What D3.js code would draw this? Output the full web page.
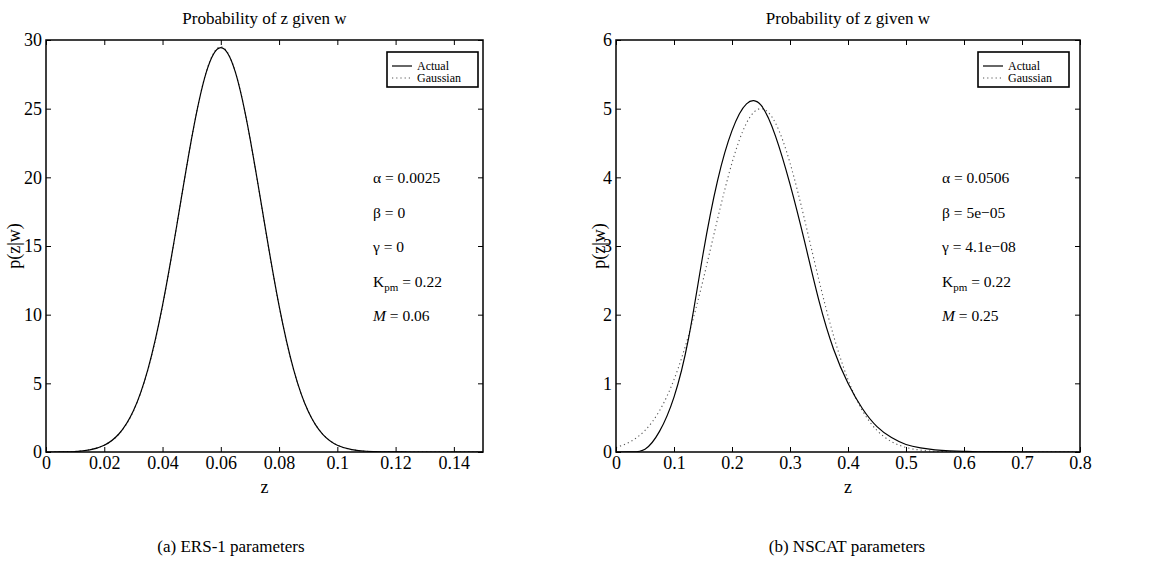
<!DOCTYPE html>
<html>
<head>
<meta charset="utf-8">
<script src="https://cdn.jsdelivr.net/npm/d3@7/dist/d3.min.js"></script>
<style>
  html, body { margin: 0; padding: 0; background: #fff; }
  svg { display: block; font-family: "Liberation Serif", "Times New Roman", serif; }
</style>
</head>
<body>
<svg id="chart" width="1158" height="574"></svg>
<script>
// ERS-1 panel: p(z|w), actual density vs Gaussian approximation
const ersZ = [0, 0.005, 0.01, 0.015, 0.02, 0.025, 0.03, 0.035, 0.04, 0.045, 0.05, 0.055,
  0.06, 0.065, 0.07, 0.075, 0.08, 0.085, 0.09, 0.095, 0.1, 0.105, 0.11, 0.115, 0.12,
  0.125, 0.13, 0.135, 0.14, 0.145, 0.15];
const ersActual = [0, 0.004, 0.03, 0.15, 0.49, 1.31, 3.0, 6.04, 10.68, 16.64, 22.85, 27.64,
  29.45, 27.66, 22.88, 16.66, 10.66, 6.0, 2.96, 1.28, 0.49, 0.17, 0.055, 0.016, 0.005,
  0.001, 0, 0, 0, 0, 0];
const ersGaussian = [0.003, 0.013, 0.05, 0.168, 0.498, 1.296, 2.97, 5.99, 10.63, 16.62, 22.86, 27.68,
  29.5, 27.68, 22.86, 16.62, 10.63, 5.99, 2.97, 1.296, 0.498, 0.168, 0.05, 0.013, 0.003,
  0, 0, 0, 0, 0, 0];
const ersXTicks = [0, 0.02, 0.04, 0.06, 0.08, 0.1, 0.12, 0.14];
const ersXTickLabels = ["0", "0.02", "0.04", "0.06", "0.08", "0.1", "0.12", "0.14"];
const ersYTicks = [0, 5, 10, 15, 20, 25, 30];
const ersParams = [["α", "0.0025"], ["β", "0"], ["γ", "0"], ["Kpm", "0.22"], ["M", "0.06"]];

// NSCAT panel
const nscatZ = [0, 0.025, 0.05, 0.075, 0.1, 0.125, 0.15, 0.175, 0.2, 0.225, 0.25,
  0.275, 0.3, 0.325, 0.35, 0.375, 0.4, 0.425, 0.45, 0.475, 0.5, 0.525, 0.55, 0.575, 0.6,
  0.625, 0.65, 0.675, 0.7, 0.75, 0.8];
const nscatActual = [0, 0.002, 0.04, 0.3, 0.8, 1.65, 2.88, 3.95, 4.68, 5.07, 5.05,
  4.6, 3.9, 3.07, 2.2, 1.5, 1.0, 0.63, 0.37, 0.21, 0.11, 0.06, 0.032, 0.017, 0.009,
  0.004, 0.002, 0.001, 0, 0, 0];
const nscatGaussian = [0.066, 0.151, 0.314, 0.601, 1.054, 1.696, 2.5, 3.39, 4.21, 4.79, 5.0,
  4.79, 4.21, 3.39, 2.5, 1.696, 1.054, 0.601, 0.314, 0.151, 0.066, 0.027, 0.01, 0.003, 0.001,
  0, 0, 0, 0, 0, 0];
const nscatXTicks = [0, 0.1, 0.2, 0.3, 0.4, 0.5, 0.6, 0.7, 0.8];
const nscatXTickLabels = ["0", "0.1", "0.2", "0.3", "0.4", "0.5", "0.6", "0.7", "0.8"];
const nscatYTicks = [0, 1, 2, 3, 4, 5, 6];
const nscatParams = [["α", "0.0506"], ["β", "5e\u221205"], ["γ", "4.1e\u221208"], ["Kpm", "0.22"], ["M", "0.25"]];

const titleText = "Probability of z given w";
const seriesNames = ["Actual", "Gaussian"];

const svg = d3.select("#chart");

function drawPanel(opt) {
  const { left, right, top, bottom, z, actual, gauss, xDomain, yDomain,
          xTicks, xTickLabels, yTicks, params, paramX, legendX,
          yLabelX, caption, captionX, id } = opt;

  const x = d3.scaleLinear().domain(xDomain).range([left, right]);
  const y = d3.scaleLinear().domain(yDomain).range([bottom, top]);

  const g = svg.append("g");

  g.append("clipPath").attr("id", id).append("rect")
    .attr("x", left).attr("y", top).attr("width", right - left).attr("height", bottom - top);

  // curves: smooth cubic spline through the sampled densities
  const line = d3.line()
    .x(d => x(d[0])).y(d => y(d[1]))
    .curve(d3.curveNatural);

  const plot = g.append("g").attr("clip-path", `url(#${id})`);
  plot.append("path")
    .datum(z.map((v, i) => [v, gauss[i]]))
    .attr("d", line)
    .attr("fill", "none")
    .attr("stroke", "#555")
    .attr("stroke-width", 1.1)
    .attr("stroke-dasharray", "1.2,3");
  plot.append("path")
    .datum(z.map((v, i) => [v, actual[i]]))
    .attr("d", line)
    .attr("fill", "none")
    .attr("stroke", "#000")
    .attr("stroke-width", 1.2);

  // axes with inward ticks on all four sides
  const fmt = (d, i) => xTickLabels[i];
  const axB = g.append("g").attr("transform", `translate(0,${bottom})`)
    .call(d3.axisBottom(x).tickValues(xTicks).tickFormat(fmt).tickSize(-5).tickSizeOuter(0).tickPadding(4));
  const axL = g.append("g").attr("transform", `translate(${left},0)`)
    .call(d3.axisLeft(y).tickValues(yTicks).tickFormat(d3.format("d")).tickSize(-5).tickSizeOuter(0).tickPadding(4));
  const axT = g.append("g").attr("transform", `translate(0,${top})`)
    .call(d3.axisTop(x).tickValues(xTicks).tickFormat("").tickSize(-5).tickSizeOuter(0));
  const axR = g.append("g").attr("transform", `translate(${right},0)`)
    .call(d3.axisRight(y).tickValues(yTicks).tickFormat("").tickSize(-5).tickSizeOuter(0));

  [axB, axL, axT, axR].forEach(a => {
    a.select(".domain").remove();
    a.selectAll(".tick line").attr("stroke", "#000").attr("stroke-width", 1);
    a.selectAll("text").attr("fill", "#000")
      .style("font-family", "'Liberation Serif', 'Times New Roman', serif")
      .style("font-size", "18px");
  });

  // plot frame
  g.append("rect")
    .attr("x", left).attr("y", top).attr("width", right - left).attr("height", bottom - top)
    .attr("fill", "none").attr("stroke", "#000").attr("stroke-width", 1.5);

  const cx = (left + right) / 2;

  // title
  g.append("text").attr("x", cx).attr("y", 24).attr("text-anchor", "middle")
    .style("font-size", "17px").text(titleText);

  // axis labels
  g.append("text").attr("x", cx).attr("y", 493).attr("text-anchor", "middle")
    .style("font-size", "18px").text("z");
  g.append("text")
    .attr("transform", `translate(${yLabelX},${(top + bottom) / 2}) rotate(-90)`)
    .attr("text-anchor", "middle").style("font-size", "18px").text("p(z|w)");

  // legend
  const lg = g.append("g").attr("transform", `translate(${legendX},52)`);
  lg.append("rect").attr("width", 91).attr("height", 35)
    .attr("fill", "#fff").attr("stroke", "#000").attr("stroke-width", 1.6);
  seriesNames.forEach((name, i) => {
    const ly = 14 + i * 12;
    lg.append("line").attr("x1", 5).attr("x2", 25).attr("y1", ly).attr("y2", ly)
      .attr("stroke", i === 0 ? "#000" : "#555")
      .attr("stroke-width", i === 0 ? 1.2 : 1.1)
      .attr("stroke-dasharray", i === 0 ? null : "1.2,3");
    lg.append("text").attr("x", 30).attr("y", ly + 4)
      .style("font-size", "12px").text(name);
  });

  // model parameters
  const pg = g.append("g");
  params.forEach((p, i) => {
    const t = pg.append("text").attr("x", paramX).attr("y", 183 + i * 34.5).style("font-size", "15.5px");
    if (p[0] === "Kpm") {
      t.append("tspan").text("K");
      t.append("tspan").attr("dy", 4).style("font-size", "11px").text("pm");
      t.append("tspan").attr("dy", -4).text(" = " + p[1]);
    } else if (p[0] === "M") {
      t.append("tspan").style("font-style", "italic").text("M");
      t.append("tspan").text(" = " + p[1]);
    } else {
      t.text(p[0] + " = " + p[1]);
    }
  });

  // caption
  g.append("text").attr("x", captionX).attr("y", 552).attr("text-anchor", "middle")
    .style("font-size", "17px").text(caption);
}

drawPanel({
  id: "clipA", left: 46, right: 483, top: 40, bottom: 452,
  z: ersZ, actual: ersActual, gauss: ersGaussian,
  xDomain: [0, 0.15], yDomain: [0, 30],
  xTicks: ersXTicks, xTickLabels: ersXTickLabels, yTicks: ersYTicks,
  params: ersParams, paramX: 373, legendX: 387, yLabelX: 20,
  caption: "(a) ERS-1 parameters", captionX: 231
});

drawPanel({
  id: "clipB", left: 616, right: 1080, top: 40, bottom: 452,
  z: nscatZ, actual: nscatActual, gauss: nscatGaussian,
  xDomain: [0, 0.8], yDomain: [0, 6],
  xTicks: nscatXTicks, xTickLabels: nscatXTickLabels, yTicks: nscatYTicks,
  params: nscatParams, paramX: 942, legendX: 978, yLabelX: 605,
  caption: "(b) NSCAT parameters", captionX: 847
});
</script>
</body>
</html>
